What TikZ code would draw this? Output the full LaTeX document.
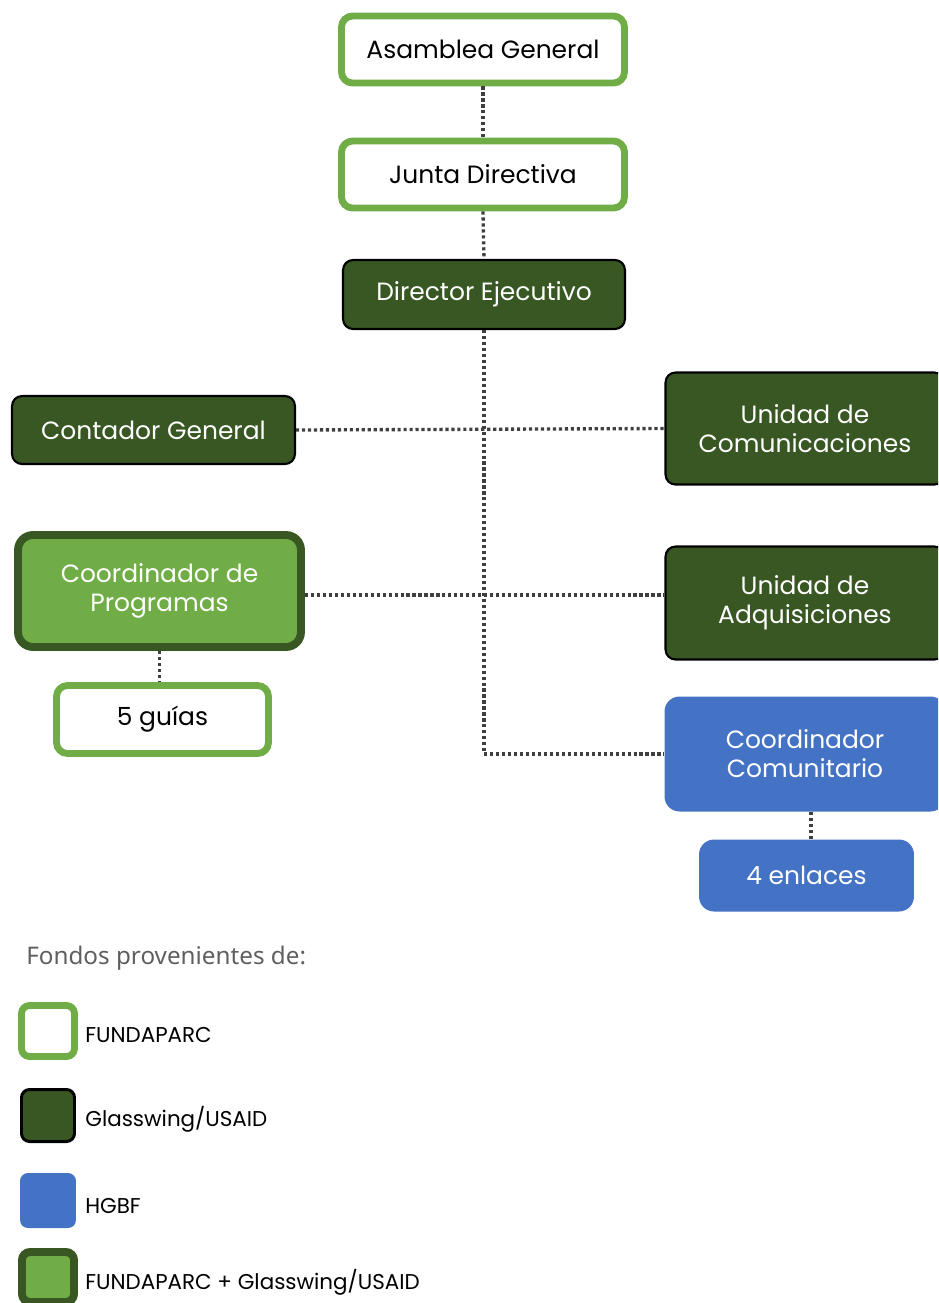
\documentclass[tikz,border=0pt]{standalone}
\usepackage{fontspec}
\setmainfont{Poppins}
\newfontfamily\titlefont{Noto Sans}
\usetikzlibrary{positioning}
\definecolor{verdeclaro}{HTML}{70AD47}
\definecolor{verdeoscuro}{HTML}{385723}
\definecolor{azul}{HTML}{4472C4}
\definecolor{linea}{HTML}{3F3F3F}
\definecolor{titulo}{HTML}{5F5F5F}

\begin{document}
\begin{tikzpicture}[x=0.02cm, y=-0.02cm,
    every node/.style={font=\fontsize{14.2}{16.5}\selectfont, align=center, inner sep=0pt},
    fundaparc/.style={draw=verdeclaro, fill=white, line width=3.9pt, rounded corners=0.22cm},
    glasswing/.style={draw=black, fill=verdeoscuro, line width=1.2pt, rounded corners=0.2cm, text=white},
    hgbf/.style={fill=azul, rounded corners=0.3cm, text=white},
    mixto/.style={draw=verdeoscuro, fill=verdeclaro, line width=4.5pt, rounded corners=0.3cm, text=white},
    enlace/.style={draw=linea, line width=1.9pt, dash pattern=on 1.8pt off 1.6pt},
    leyenda/.style={anchor=west, font=\fontsize{12.2}{14}\selectfont}]
    \clip (0,0) rectangle (938,1303);

    % organigrama
    \node[fundaparc, minimum width=5.66cm, minimum height=1.34cm] (asamblea) at (483,49.5) {Asamblea General};
    \node[fundaparc, minimum width=5.66cm, minimum height=1.34cm] (junta) at (483,174.5) {Junta Directiva};
    \node[glasswing, minimum width=5.64cm, minimum height=1.38cm] (director) at (484,294.5) {Director Ejecutivo};
    \node[glasswing, minimum width=5.66cm, minimum height=1.36cm] (contador) at (153.5,430) {Contador General};
    \node[glasswing, minimum width=5.58cm, minimum height=2.24cm] (comunicaciones) at (805,428.5) {Unidad de\\Comunicaciones};
    \node[mixto, minimum width=5.66cm, minimum height=2.24cm] (programas) at (159.5,591) {Coordinador de\\Programas};
    \node[glasswing, minimum width=5.58cm, minimum height=2.26cm] (adquisiciones) at (805,603) {Unidad de\\Adquisiciones};
    \node[fundaparc, minimum width=4.24cm, minimum height=1.36cm] (guias) at (162.5,719.5) {5 guías};
    \node[hgbf, minimum width=5.62cm, minimum height=2.3cm] (comunitario) at (805,754) {Coordinador\\Comunitario};
    \node[hgbf, minimum width=4.3cm, minimum height=1.44cm] (enlaces) at (806.5,875.5) {4 enlaces};

    \draw[enlace] (asamblea.south) -- (junta.north);
    \draw[enlace] (junta.south) -- (director.north);
    \draw[enlace] (director.south) |- (comunitario.west);
    \draw[enlace] (contador.east) -- (comunicaciones.west);
    \draw[enlace] ([yshift=-0.08cm]programas.east) -- ([yshift=-0.08cm]programas.east -| adquisiciones.west);
    \draw[enlace] (programas.south) -- (programas.south |- guias.north);
    \draw[enlace] ([xshift=0.12cm]comunitario.south) -- ([xshift=0.12cm]comunitario.south |- enlaces.north);

    % leyenda
    \node[anchor=west, text=titulo, font=\titlefont\fontsize{13.8}{16}\selectfont] (fondos) at (26,958) {Fondos provenientes de:};
    \node[fundaparc, minimum width=1.06cm, minimum height=1.02cm, rounded corners=0.16cm] (cajaA) at (48,1031) {};
    \node[glasswing, minimum width=1.06cm, minimum height=1.04cm, line width=1.7pt, rounded corners=0.16cm] (cajaB) at (48,1115.5) {};
    \node[hgbf, minimum width=1.12cm, minimum height=1.1cm, rounded corners=0.16cm] (cajaC) at (48,1200.5) {};
    \node[mixto, minimum width=1.04cm, minimum height=1.0cm, rounded corners=0.16cm] (cajaD) at (48,1277) {};
    \node[leyenda] (textoA) at (85,1035) {FUNDAPARC};
    \node[leyenda] (textoB) at (85,1119) {Glasswing/USAID};
    \node[leyenda] (textoC) at (85,1206) {HGBF};
    \node[leyenda] (textoD) at (85,1282) {FUNDAPARC + Glasswing/USAID};
\end{tikzpicture}
\end{document}
